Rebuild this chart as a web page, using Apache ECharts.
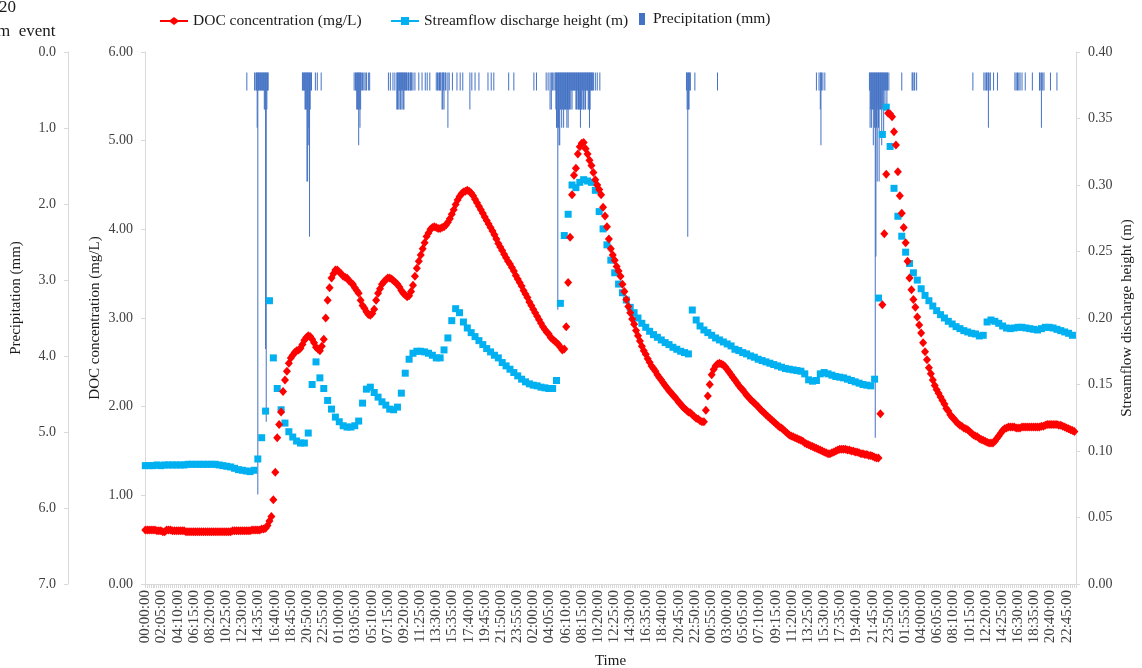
<!DOCTYPE html>
<html>
<head>
<meta charset="utf-8">
<script src="https://cdn.jsdelivr.net/npm/echarts@6/dist/echarts.min.js"></script>
<style>
  html, body { margin: 0; padding: 0; background: #ffffff; }
  #chart { width: 1142px; height: 668px; }
</style>
</head>
<body>
<div id="chart"></div>
<script>
// Five days of 5-minute time steps on the category axis
const STEP_MIN = 5;
const DAYS = 5;
function pad(n) { return (n < 10 ? '0' : '') + n; }
const categories = [];
for (let m = 0; m < DAYS * 1440; m += STEP_MIN) {
  categories.push(pad(Math.floor(m / 60) % 24) + ':' + pad(m % 60) + ':00');
}

// DOC concentration (mg/L), one reading every 15 minutes (every 3rd step)
const DOC_EVERY = 3;
const docValues = [
  0.61,0.61,0.61,0.61,0.61,0.61,0.60,0.60,0.60,0.59,
  0.59,0.61,0.61,0.61,0.60,0.60,0.60,0.60,0.60,0.60,
  0.60,0.59,0.59,0.59,0.59,0.59,0.59,0.59,0.59,0.59,
  0.59,0.59,0.59,0.59,0.59,0.59,0.59,
  0.59,0.59,0.59,0.59,0.59,0.59,0.59,0.59,
  0.60,0.60,0.60,0.60,0.60,0.60,0.60,0.60,0.60,0.60,
  0.61,0.61,0.61,0.61,0.61,
  0.62,0.62,0.63,0.66,0.71,0.76,0.95,1.26,1.65,1.80,
  1.94,2.17,2.30,2.40,2.49,2.55,2.58,2.61,2.63,2.64,
  2.66,2.70,2.75,2.78,2.80,2.79,2.76,2.72,2.67,2.65,
  2.63,2.68,2.76,3.00,3.20,3.34,3.45,3.50,3.54,3.54,
  3.52,3.50,
  3.47,3.46,3.45,3.42,3.40,3.38,3.34,3.31,
  3.28,3.20,3.14,3.11,3.07,3.04,3.03,3.05,3.10,3.20,
  3.28,3.33,3.38,3.41,3.43,3.45,3.45,3.44,3.42,3.40,
  3.38,3.35,3.31,3.28,3.26,3.24,3.25,3.30,3.37,3.47,
  3.56,3.64,3.71,3.78,3.85,3.92,3.96,4.00,4.02,4.03,
  4.02,4.01,4.01,4.02,4.03,4.05,4.08,4.12,4.17,4.22,
  4.28,4.33,4.37,4.40,4.42,4.43,4.44,4.43,4.41,4.38,
  4.34,4.30,4.26,4.22,4.18,4.14,4.10,4.06,4.02,3.98,
  3.94,3.89,3.84,3.80,3.76,3.72,3.68,3.64,3.61,3.57,
  3.53,3.48,3.44,3.40,3.36,3.31,3.27,3.23,3.18,3.14,
  3.10,3.06,3.02,2.98,2.94,2.90,2.87,2.84,2.82,
  2.78,2.76,2.74,2.72,2.70,2.67,2.64,
  2.65,2.90,3.40,3.91,4.39,4.61,4.69,4.85,4.93,4.97,
  4.98,4.91,4.85,4.78,4.72,4.64,4.56,4.50,4.45,4.39,
  4.25,4.15,4.03,3.89,3.78,3.71,3.65,3.58,3.53,3.47,
  3.38,3.30,3.21,3.13,3.06,2.99,2.93,2.86,2.80,2.74,
  2.68,2.63,2.59,2.54,2.50,2.46,2.43,2.40,2.36,2.33,
  2.30,2.27,2.24,2.21,2.18,2.16,2.13,2.11,2.08,2.05,
  2.03,2.00,1.98,1.96,1.94,1.93,1.91,1.89,1.87,1.86,
  1.84,1.83,1.83,1.96,2.12,2.25,2.36,2.42,2.46,2.48,
  2.49,2.48,2.47,2.45,2.42,2.39,2.36,2.33,2.30,
  2.27,2.24,2.21,2.19,2.16,2.13,2.11,2.08,2.06,2.04,
  2.02,2.00,1.97,1.95,1.93,1.91,1.89,1.87,1.85,1.83,
  1.81,1.79,1.77,1.76,1.74,1.72,1.70,1.68,1.67,1.66,
  1.65,1.64,1.63,1.62,1.61,1.59,1.58,1.57,1.56,1.55,
  1.54,1.53,1.52,1.51,1.50,1.49,1.48,
  1.47,1.47,1.48,1.49,1.50,1.51,1.52,1.52,1.52,1.52,
  1.51,1.51,1.50,1.50,1.49,1.49,1.48,1.47,1.47,1.46,
  1.46,1.45,1.45,1.44,1.43,1.42,1.42,1.92,3.15,3.95,
  4.62,5.31,5.30,5.27,5.10,4.95,4.65,4.38,4.18,4.02,
  3.85,3.64,3.45,3.32,3.21,3.12,3.01,2.92,2.83,2.72,
  2.62,2.53,2.44,2.37,2.30,2.24,2.19,2.15,2.11,2.07,
  2.03,1.98,1.95,1.91,1.88,1.86,1.83,1.81,1.79,1.78,
  1.76,1.75,1.74,1.72,1.70,1.68,1.67,1.66,1.64,1.63,
  1.62,1.61,1.60,1.59,1.59,1.59,1.61,1.64,1.67,1.70,
  1.73,1.75,1.76,1.77,1.77,
  1.77,1.77,1.76,1.76,1.76,1.77,1.77,1.77,1.77,1.77,
  1.77,1.77,1.77,1.77,1.77,1.78,1.78,1.79,1.80,1.80,
  1.80,1.80,1.80,1.80,1.79,1.79,1.78,1.77,1.76,1.75,
  1.74,1.73,1.72
];

// Streamflow discharge height (m), one reading every 30 minutes (every 6th step)
const FLOW_EVERY = 6;
const flowValues = [
  0.089,0.089,0.089,0.0895,0.089,0.0895,0.0895,0.0895,0.0895,0.0895,
  0.0895,0.09,0.09,0.09,0.09,0.09,0.09,0.09,0.09,0.0895,
  0.089,0.0885,0.088,0.087,0.086,0.0855,0.085,0.0845,0.0855,
  0.094,0.110,0.130,0.213,0.170,0.147,0.131,0.121,0.1145,0.1105,
  0.1075,0.106,0.106,0.1135,0.150,0.167,0.155,0.147,0.138,0.1315,
  0.1255,0.122,0.119,0.118,0.118,0.119,0.1225,0.136,0.1465,0.148,
  0.144,0.1405,0.137,0.1345,0.1315,0.131,0.133,0.1435,0.1585,0.169,
  0.1735,0.175,0.175,0.1745,0.1735,0.172,0.170,0.170,0.176,0.185,
  0.198,0.207,0.204,0.197,0.1925,0.189,0.186,0.183,0.180,0.177,
  0.1745,0.172,0.170,0.1665,0.164,0.1615,0.159,0.1565,0.154,0.152,
  0.1505,0.1495,0.149,0.148,
  0.1475,0.147,0.147,0.153,0.211,
  0.262,0.278,0.300,0.298,0.302,0.304,0.303,0.302,0.296,0.280,
  0.267,0.255,0.2435,0.234,0.2255,0.219,0.2135,0.208,0.204,0.200,
  0.196,0.193,0.190,0.1875,0.1855,0.1835,0.1815,0.180,0.178,0.1765,
  0.175,0.174,0.173,0.206,0.1985,0.194,0.191,0.189,0.187,0.185,
  0.1835,0.182,0.1805,0.179,
  0.1765,0.1755,0.174,0.173,0.1715,
  0.1705,0.169,0.168,0.167,0.166,0.165,0.164,0.163,0.162,0.1615,
  0.161,0.1605,0.160,0.158,0.1535,0.1525,0.153,0.158,0.159,0.158,
  0.157,0.156,0.1555,0.155,0.154,0.153,0.152,0.151,0.150,0.1495,
  0.149,0.154,0.215,0.338,0.3585,0.329,0.2975,0.2765,0.2615,0.2495,
  0.241,0.234,0.2285,0.222,0.217,0.213,0.209,0.2055,0.2025,0.200,
  0.1975,0.1955,0.1935,0.192,0.1905,0.1895,0.1885,0.188,
  0.1865,
  0.187,0.197,0.1985,0.1975,0.196,0.194,0.1925,0.192,0.1925,0.193,
  0.193,0.1925,0.192,0.1915,0.191,0.192,0.193,0.193,0.1925,0.1915,
  0.1905,0.1895,0.1885,0.187
];

// Precipitation (mm) per 5-minute step: [step index, depth]; dry steps omitted
const precipValues = [
  [157,0.25],
  [169,0.25],[171,0.25],[172,0.25],[173,0.76],[174,5.8],[175,0.25],[176,0.25],[177,0.25],[178,0.25],
  [179,0.25],[180,0.25],[181,0.25],[182,0.25],[183,0.25],[184,0.51],[185,0.51],[186,3.8],[187,4.8],
  [188,0.51],[189,0.25],[190,0.25],
  [243,0.25],[244,0.25],[245,0.25],[246,0.25],[247,0.51],[248,0.51],[249,0.51],[250,1.5],[251,1.5],
  [252,1.0],[253,0.76],[254,2.26],[255,0.51],[256,0.25],[257,0.25],[263,0.25],[266,0.25],[272,0.25],
  [323,0.25],[325,0.25],[326,0.25],[327,0.51],[328,0.51],[329,0.51],[330,1.0],[331,0.51],[332,0.76],
  [333,0.51],[334,0.25],[336,0.25],[338,0.25],[340,0.25],[342,0.25],[345,0.25],[347,0.25],
  [376,0.25],[379,0.25],[383,0.25],[386,0.25],[389,0.51],[390,0.51],[391,0.25],[392,0.51],[393,0.25],
  [394,0.51],[395,0.51],[396,0.25],[397,0.51],[398,0.25],[399,0.51],[400,0.51],[401,0.25],[402,0.25],
  [403,0.25],[404,0.25],[406,0.25],[407,0.25],[408,0.25],[410,0.25],[411,0.25],[412,0.25],[414,0.25],
  [417,0.25],[423,0.25],[428,0.25],[433,0.25],[436,0.25],[440,0.25],
  [450,0.25],[452,0.25],[453,0.25],[455,0.25],[456,0.25],[457,0.25],[459,0.51],[460,0.51],[461,0.25],
  [462,0.51],[464,0.25],[465,0.25],[468,0.76],[470,0.25],[475,0.25],[482,0.25],[487,0.25],[491,0.25],
  [502,0.51],[505,0.25],[510,0.25],[516,0.25],[530,0.25],[535,0.25],[539,0.25],
  [562,0.25],[570,0.25],[601,0.25],[605,0.25],
  [620,0.25],[623,0.25],[626,0.51],[628,0.51],[630,0.25],[632,0.25],[634,0.25],[635,0.51],[636,0.76],
  [637,0.76],[638,3.26],[639,0.76],[640,1.0],[641,1.0],[642,0.51],[643,0.51],[644,0.76],[645,0.51],
  [646,0.51],[647,0.76],[648,0.51],[649,0.51],[650,0.51],[651,0.51],[652,0.76],[653,0.51],[654,0.76],
  [655,0.51],[656,0.51],[657,0.25],[658,0.51],[659,0.25],[660,0.51],[661,0.25],[662,0.25],[663,0.25],
  [664,0.25],[665,0.25],[666,0.51],[667,0.51],[668,0.25],[669,0.51],[670,0.51],[671,0.51],[672,0.51],
  [673,0.76],[674,0.51],[675,0.51],[676,0.25],[677,0.51],[678,0.51],[679,0.25],[680,0.51],[681,0.51],
  [682,0.25],[683,0.25],[684,0.25],[685,0.51],[686,0.51],[687,0.76],[688,0.51],[689,0.25],[690,0.25],
  [691,0.25],[692,0.25],[693,0.25],[696,0.25],[699,0.25],[703,0.25],
  [837,0.25],[838,0.51],[839,2.26],[840,0.51],[841,0.51],[842,0.25],[843,0.25],[850,0.25],[885,0.25],
  [1038,0.25],[1042,0.25],[1044,0.51],[1045,1.0],[1046,0.25],[1048,0.25],[1051,0.25],
  [1120,0.25],[1121,0.76],[1122,0.51],[1123,0.76],[1124,0.51],[1125,0.51],[1126,1.0],[1127,0.51],
  [1128,0.76],[1129,5.02],[1130,2.53],[1131,0.76],[1132,1.5],[1133,0.51],[1134,0.76],[1135,1.5],
  [1136,0.51],[1137,0.51],[1138,0.51],[1139,1.0],[1140,0.51],[1141,0.25],[1142,0.89],[1143,0.25],
  [1144,0.51],[1145,0.25],[1146,0.25],[1147,0.51],[1148,0.25],[1150,0.25],
  [1170,0.25],[1186,0.25],[1187,0.25],[1189,0.25],[1190,0.25],[1193,0.25],
  [1280,0.25],[1297,0.25],[1299,0.25],[1301,0.25],[1302,0.25],[1304,0.76],[1305,0.25],[1307,0.25],
  [1312,0.25],[1318,0.25],[1345,0.25],[1347,0.25],[1349,0.25],[1351,0.25],[1353,0.25],[1356,0.25],
  [1361,0.25],[1372,0.25],[1383,0.25],[1384,0.25],[1386,0.76],[1388,0.25],[1390,0.25],[1400,0.25],
  [1410,0.25]
];

const SERIF = '"Liberation Serif", "Times New Roman", serif';
const AXIS_GRAY = '#D9D9D9';
const LABEL_COLOR = '#404040';
const C_DOC = '#FF0000';
const C_FLOW = '#00B0F0';
const C_RAIN = '#4472C4';

const NAME_DOC = 'DOC concentration (mg/L)';
const NAME_FLOW = 'Streamflow discharge height (m)';
const NAME_RAIN = 'Precipitation (mm)';

const docData = docValues.map((v, j) => [j * DOC_EVERY, v]);
const flowData = flowValues.map((v, k) => [k * FLOW_EVERY, v]);

const legendText = { fontFamily: SERIF, fontSize: 15.5, color: '#1a1a1a' };
const axisLabelStyle = { fontFamily: SERIF, fontSize: 14, color: LABEL_COLOR };
const axisNameStyle = { fontFamily: SERIF, fontSize: 15, color: '#1a1a1a' };

const chart = echarts.init(document.getElementById('chart'), null, { renderer: 'canvas' });

chart.setOption({
  animation: false,
  backgroundColor: '#ffffff',
  grid: { left: 145, right: 66, top: 52, bottom: 84, containLabel: false, outerBoundsMode: 'none' },
  legend: [
    {
      left: 155, top: 8, itemWidth: 28, itemHeight: 8, selectedMode: false,
      textStyle: legendText,
      data: [{ name: NAME_DOC, icon: 'path://M0,3H10L14,0L18,3H28V5H18L14,8L10,5H0Z' }]
    },
    {
      left: 386, top: 8, itemWidth: 28, itemHeight: 8, selectedMode: false,
      textStyle: legendText,
      data: [{ name: NAME_FLOW, icon: 'path://M0,3H10V0H18V3H28V5H18V8H10V5H0Z' }]
    },
    {
      left: 634, top: 6, itemWidth: 12, itemHeight: 12, selectedMode: false,
      textStyle: legendText,
      data: [{ name: NAME_RAIN, icon: 'path://M0,0H6V12H0Z' }]
    }
  ],
  graphic: [
    { type: 'text', x: -1, y: 8, style: { text: '20', font: '17px ' + SERIF, fill: '#1a1a1a', verticalAlign: 'middle' } },
    { type: 'text', x: -3, y: 32, style: { text: 'm  event', font: '17px ' + SERIF, fill: '#1a1a1a', verticalAlign: 'middle' } },
    { type: 'text', x: 16, y: 298, rotation: Math.PI / 2,
      style: { text: NAME_RAIN, font: '15px ' + SERIF, fill: '#1a1a1a', align: 'center', verticalAlign: 'middle' } }
  ],
  xAxis: {
    type: 'category',
    data: categories,
    boundaryGap: true,
    axisLine: { show: true, lineStyle: { color: AXIS_GRAY } },
    axisTick: { show: true, interval: 2, length: 4, lineStyle: { color: AXIS_GRAY } },
    axisLabel: Object.assign({ interval: 24, rotate: 90, margin: 6 }, axisLabelStyle, { fontSize: 15 }),
    splitLine: { show: false },
    name: 'Time', nameLocation: 'middle', nameGap: 70, nameMoveOverlap: false, nameTextStyle: axisNameStyle
  },
  yAxis: [
    {
      type: 'value', position: 'left', min: 0, max: 6, interval: 1,
      axisLine: { show: true, lineStyle: { color: AXIS_GRAY } },
      axisTick: { show: true, length: 4, lineStyle: { color: AXIS_GRAY } },
      splitLine: { show: false },
      axisLabel: Object.assign({ margin: 12, formatter: v => v.toFixed(2) }, axisLabelStyle),
      name: NAME_DOC, nameLocation: 'middle', nameGap: 42, nameRotate: 90, nameMoveOverlap: false,
      nameTextStyle: axisNameStyle
    },
    {
      type: 'value', position: 'right', min: 0, max: 0.4, interval: 0.05,
      axisLine: { show: true, lineStyle: { color: AXIS_GRAY } },
      axisTick: { show: true, length: 4, lineStyle: { color: AXIS_GRAY } },
      splitLine: { show: false },
      axisLabel: Object.assign({ margin: 12, formatter: v => v.toFixed(2) }, axisLabelStyle),
      name: NAME_FLOW, nameLocation: 'middle', nameGap: 44, nameRotate: 90, nameMoveOverlap: false,
      nameTextStyle: axisNameStyle
    },
    {
      type: 'value', position: 'left', offset: 77, inverse: true, min: 0, max: 7, interval: 1,
      axisLine: { show: true, lineStyle: { color: AXIS_GRAY } },
      axisTick: { show: true, length: 4, lineStyle: { color: AXIS_GRAY } },
      splitLine: { show: false },
      axisLabel: Object.assign({ margin: 12, formatter: v => v.toFixed(1) }, axisLabelStyle)
    },
    {
      // rainfall bars hang from a zero set just below the top of the plot
      type: 'value', show: false, inverse: true, min: -0.28, max: 7.03,
      splitLine: { show: false }
    }
  ],
  series: [
    {
      name: NAME_RAIN, type: 'bar', yAxisIndex: 3, data: precipValues,
      barWidth: 1, itemStyle: { color: C_RAIN }, z: 1, silent: true
    },
    {
      name: NAME_FLOW, type: 'scatter', yAxisIndex: 1, data: flowData,
      symbol: 'rect', symbolSize: 7, itemStyle: { color: C_FLOW, opacity: 1 }, z: 2, silent: true
    },
    {
      name: NAME_DOC, type: 'scatter', yAxisIndex: 0, data: docData,
      symbol: 'diamond', symbolSize: [8, 9], itemStyle: { color: C_DOC, opacity: 1 }, z: 3, silent: true
    }
  ]
});
</script>
</body>
</html>
